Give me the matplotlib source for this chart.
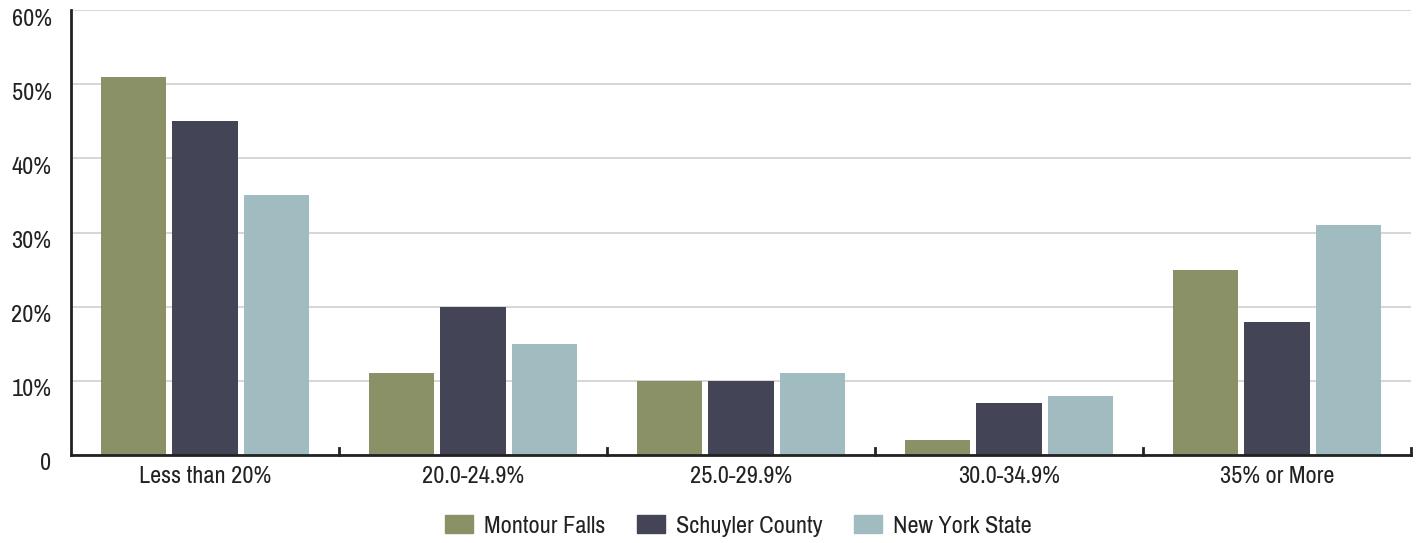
import numpy as np
import matplotlib
matplotlib.use("Agg")
import matplotlib.pyplot as plt
from matplotlib import font_manager
from matplotlib.patches import Patch
from matplotlib.transforms import ScaledTranslation

# ------------------------------------------------------------
# Data
# ------------------------------------------------------------
categories = ["Less than 20%", "20.0-24.9%", "25.0-29.9%", "30.0-34.9%", "35% or More"]
series_names = ["Montour Falls", "Schuyler County", "New York State"]
montour_falls = [51, 11, 10, 2, 25]
schuyler_county = [45, 20, 10, 7, 18]
new_york_state = [35, 15, 11, 8, 31]
y_ticks = [0, 10, 20, 30, 40, 50, 60]
y_tick_labels = ["0", "10%", "20%", "30%", "40%", "50%", "60%"]

COLORS = ["#8A9166", "#434456", "#A0BCC0"]

# look for a narrow / condensed face, the original uses a condensed sans
fonts = font_manager.fontManager.ttflist
narrow_names = sorted({f.name for f in fonts
                       if "narrow" in f.name.lower() or "condensed" in f.name.lower()})
condensed_stretch = sorted({f.name for f in fonts
                            if str(f.stretch).lower() in ("condensed", "semi-condensed", "extra-condensed")})
STRETCH = "normal"
if narrow_names:
    family = narrow_names[0]
elif condensed_stretch:
    family = condensed_stretch[0]
    STRETCH = "condensed"
else:
    family = "DejaVu Sans"
plt.rcParams["font.family"] = [family, "DejaVu Sans"]
plt.rcParams["font.stretch"] = STRETCH

found = family != "DejaVu Sans" or STRETCH == "condensed"
FS = 17.5 if found else 14.5

# ------------------------------------------------------------
# Plot
# ------------------------------------------------------------
fig = plt.figure(figsize=(14.21, 5.43), dpi=100)
ax = fig.add_axes([71 / 1421, 88 / 543, (1411 - 71) / 1421, (455 - 10) / 543])

x = np.arange(len(categories))
w = 0.243
off = 0.268
for i, vals in enumerate([montour_falls, schuyler_county, new_york_state]):
    ax.bar(x + (i - 1) * off, vals, width=w, color=COLORS[i], zorder=3)

ax.set_xlim(-0.5, len(categories) - 0.5)
ax.set_ylim(0, 60)
ax.set_yticks(y_ticks)
ax.set_yticklabels(y_tick_labels, fontsize=FS, color="#222222")
ax.tick_params(axis="y", length=0, pad=14)
ax.grid(axis="y", color="#D0D0D0", lw=1.2, zorder=0)

# y labels sit a little below their gridlines in the original
shift = ScaledTranslation(0, -7 / 100, fig.dpi_scale_trans)
for lab in ax.get_yticklabels():
    lab.set_transform(lab.get_transform() + shift)

ax.set_xticks(x)
ax.set_xticklabels(categories, fontsize=FS, color="#222222")
ax.tick_params(axis="x", length=0, pad=8)

# boundary ticks pointing up from the baseline
for b in np.arange(0.5, len(categories), 1.0):
    ax.plot([b, b], [0, 0.9], color="#222222", lw=2, clip_on=False, zorder=4)

for sp in ("top", "right"):
    ax.spines[sp].set_visible(False)
ax.spines["left"].set_color("#222222")
ax.spines["left"].set_linewidth(2)
ax.spines["bottom"].set_color("#222222")
ax.spines["bottom"].set_linewidth(2)
ax.spines["bottom"].set_zorder(5)

handles = [Patch(color=c, label=n) for c, n in zip(COLORS, series_names)]
fig.legend(handles=handles, loc="center", bbox_to_anchor=(738 / 1421, 1 - 526 / 543),
           ncol=3, frameon=False, fontsize=FS, handlelength=1.15, handleheight=0.75,
           columnspacing=1.3, handletextpad=0.45, labelcolor="#222222")

fig.savefig("out.png", dpi=100)
